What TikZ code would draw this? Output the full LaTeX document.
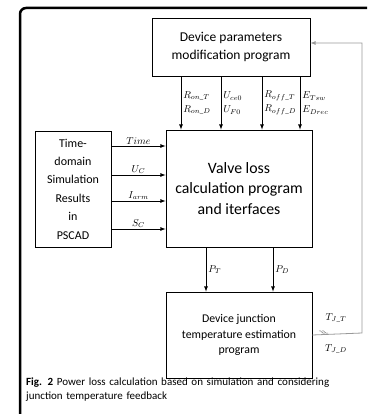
\documentclass[tikz,border=0pt]{standalone}
\usepackage{amsmath}
\usepackage{fontspec}
\setmainfont{Carlito}
\usetikzlibrary{arrows,shapes}
\tikzstyle{block}=[draw,thick,align=center,inner sep=0pt]
\tikzstyle{arrow} = [draw,thick,-latex]
\tikzstyle{feedback} = [draw,thick,black!40,-latex]
\tikzstyle{param} = [font=\normalsize,align=left,inner sep=2pt]
\tikzstyle{signal} = [font=\normalsize,above,inner sep=1pt]

\begin{document}
\begin{tikzpicture}[x=1pt,y=-1pt]
   \useasboundingbox (0,0) rectangle (367,414);
   \draw[line width=2.5pt,rounded corners=6pt] (20,414) -- (20,8) -- (367,8);
   % blocks
   \node[block,minimum width=158,minimum height=58,font=\fontsize{13.5}{18}\selectfont] (dpm) at (231,47)
        {Device parameters\\modification program};
   \node[block,minimum width=146,minimum height=117,font=\fontsize{15.8}{20.5}\selectfont] (valve) at (239,188.5)
        {Valve loss\\calculation program\\and iterfaces};
   \node[block,minimum width=76,minimum height=116,font=\fontsize{12}{18.4}\selectfont] (pscad) at (73,189)
        {Time-\\domain\\Simulation\\Results\\in\\PSCAD};
   \node[block,minimum width=146,minimum height=86,font=\fontsize{11.8}{15.5}\selectfont] (junction) at (239,335)
        {Device junction\\temperature estimation\\program};
   % device parameters
   \foreach \x/\ptop/\pbot in {181/R_{on\_T}/R_{on\_D}, 221/U_{ce0}/U_{F0},
                                 262/R_{off\_T}/R_{off\_D}, 300/E_{Tsw}/E_{Drec}}
        \path[arrow] (dpm.south -| \x,0) -- node[param,right] {$\ptop$\\[2pt]$\pbot$} (valve.north -| \x,0);
   % simulation results
   \foreach \y/\signame in {146/Time, 175/U_C, 201/I_{arm}, 229/S_C}
        \path[arrow] (pscad.east |- 0,\y) -- node[signal] {$\signame$} (valve.west |- 0,\y);
   % losses
   \foreach \x/\loss in {206/P_T, 273/P_D}
        \path[arrow] (valve.south -| \x,0) -- node[param,right] {$\loss$} (junction.north -| \x,0);
   % junction temperature feedback
   \coordinate (corner) at (362,333);
   \path[feedback] (junction.east) -- (corner) |- ([yshift=4pt]dpm.east);
   \foreach \dx in {0,3}
        \draw[black!60,thin] (319+\dx,331) .. controls (321+\dx,329) and (322+\dx,335) .. (325+\dx,333);
   \node[param] (tjt) at (336,318) {$T_{J\_T}$};
   \node[param] (tjd) at (336,349) {$T_{J\_D}$};
   % caption
   \node[anchor=north west,align=left,font=\fontsize{11}{14}\selectfont,inner sep=0pt,text width=335pt] (caption) at (26,378)
        {\textbf{Fig. 2} Power loss calculation based on simulation and considering\\junction temperature feedback};
\end{tikzpicture}
\end{document}
